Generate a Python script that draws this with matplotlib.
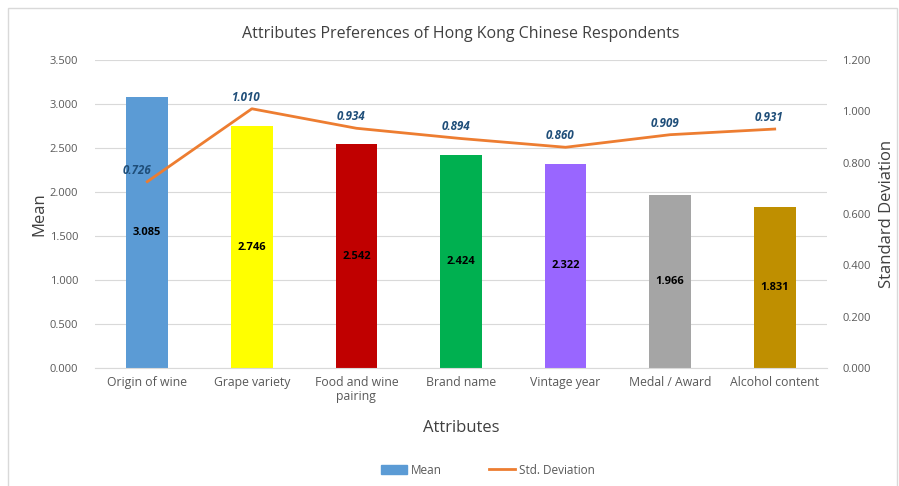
import matplotlib.pyplot as plt
import matplotlib.patches as mpatches
import matplotlib.lines as mlines
import numpy as np

plt.rcParams['font.family'] = ['Open Sans', 'DejaVu Sans']

# data
attributes = ["Origin of wine", "Grape variety", "Food and wine\npairing", "Brand name",
              "Vintage year", "Medal / Award", "Alcohol content"]
mean_vals = [3.085, 2.746, 2.542, 2.424, 2.322, 1.966, 1.831]
std_vals = [0.726, 1.010, 0.934, 0.894, 0.860, 0.909, 0.931]
bar_colors = ["#5B9BD5", "#FFFF00", "#C00000", "#00B050", "#9966FF", "#A5A5A5", "#BF8F00"]

grey = "#595959"

fig = plt.figure(figsize=(8.99, 4.86), dpi=100)
ax = fig.add_axes([95/899, 1-368/486, (827-95)/899, (368-60)/486])

# outer frame like the excel chart area
frame = mpatches.Rectangle((8/899, -0.05), (897-8)/899, 1.05-8/486, transform=fig.transFigure,
                           fill=False, edgecolor="#D9D9D9", linewidth=1)
fig.patches.append(frame)

x = np.arange(len(attributes))
bars = ax.bar(x, mean_vals, width=0.4, color=bar_colors, zorder=2)
for xi, v in zip(x, mean_vals):
    ax.text(xi, v/2, "%.3f" % v, ha="center", va="center", fontsize=8,
            fontweight="bold", color="black", zorder=3)

ax.set_xlim(-0.5, len(attributes)-0.5)
ax.set_ylim(0, 3.5)
ax.set_yticks(np.arange(0, 3.51, 0.5))
ax.set_yticklabels(["%.3f" % t for t in np.arange(0, 3.51, 0.5)])
ax.yaxis.grid(True, color="#D9D9D9", linewidth=0.8, zorder=0)
ax.set_axisbelow(True)
for s in ax.spines.values():
    s.set_visible(False)
ax.spines["bottom"].set_visible(True)
ax.spines["bottom"].set_color("#D9D9D9")
ax.tick_params(length=0, colors=grey, labelsize=8)
ax.set_xticks(x)
ax.set_xticklabels(attributes, fontsize=8.8, color=grey, linespacing=1.1)
ax.tick_params(axis="x", pad=6)
ax.tick_params(axis="y", pad=12)
ax.set_ylabel("Mean", fontsize=12, color="#404040", labelpad=2)
ax.set_xlabel("Attributes", fontsize=12, color="#404040", labelpad=12)

ax2 = ax.twinx()
ax2.plot(x, std_vals, color="#ED7D31", linewidth=2, zorder=4)
ax2.set_ylim(0, 1.2)
ax2.set_yticks(np.arange(0, 1.21, 0.2))
ax2.set_yticklabels(["%.3f" % t for t in np.arange(0, 1.21, 0.2)])
for s in ax2.spines.values():
    s.set_visible(False)
ax2.tick_params(length=0, colors=grey, labelsize=8, pad=11)
ax2.set_ylabel("Standard Deviation", fontsize=12, color="#404040", labelpad=6)
for i, (xi, v) in enumerate(zip(x, std_vals)):
    if i == 0:
        ax2.text(xi-0.1, v+0.02, "%.3f" % v, ha="center", va="bottom", fontsize=8.3,
                 fontweight="bold", style="italic", color="#1F4E79")
    else:
        ax2.text(xi-0.05, v+0.02, "%.3f" % v, ha="center", va="bottom", fontsize=8.3,
                 fontweight="bold", style="italic", color="#1F4E79")

ax.set_title("Attributes Preferences of Hong Kong Chinese Respondents", fontsize=11.5,
             color="#404040", pad=16)

handles = [mpatches.Patch(color="#5B9BD5", label="Mean"),
           mlines.Line2D([], [], color="#ED7D31", linewidth=2, label="Std. Deviation")]
leg = fig.legend(handles=handles, loc="center", bbox_to_anchor=(488/899, 1-470/486), ncol=2,
                 frameon=False, fontsize=8.5, columnspacing=4, handlelength=2.2,
                 handletextpad=0.3)
for t in leg.get_texts():
    t.set_color(grey)

fig.savefig("out.png", dpi=100)
